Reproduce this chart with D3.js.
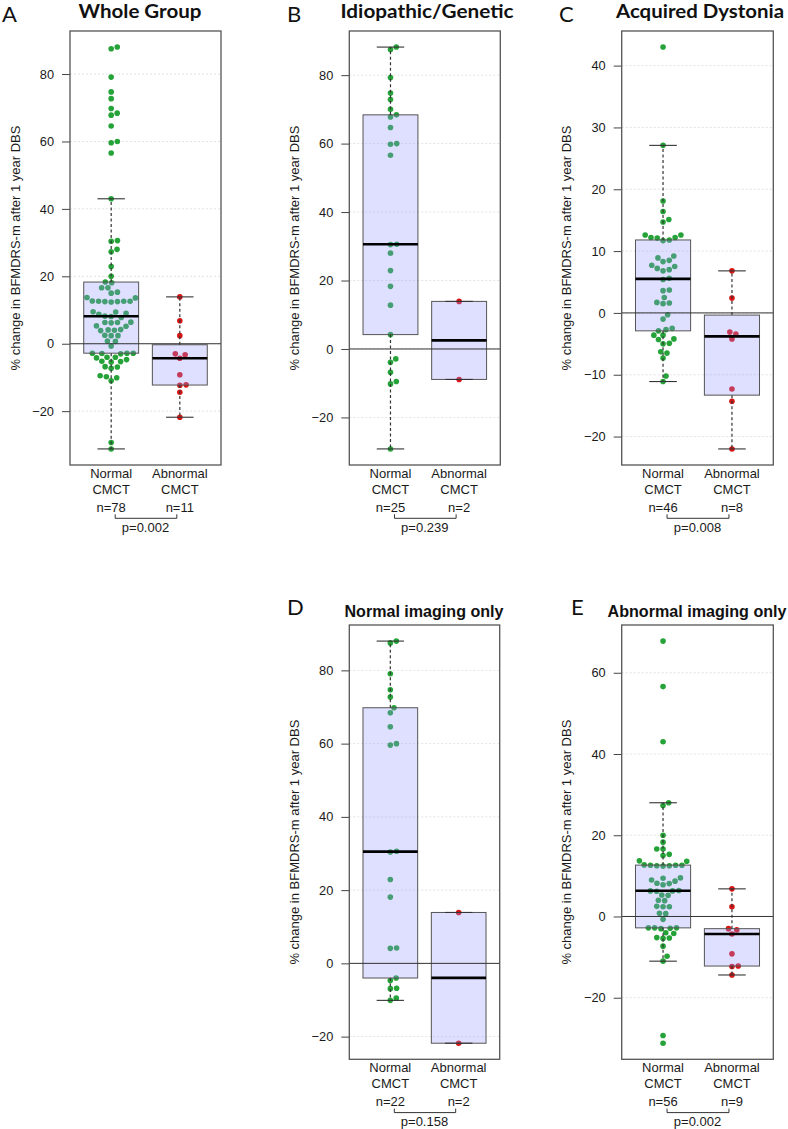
<!DOCTYPE html>
<html><head><meta charset="utf-8">
<script src="https://cdn.jsdelivr.net/npm/d3@7"></script>
<style>body{margin:0;background:#fff} svg{display:block}</style>
</head><body>
<svg id="chart" width="788" height="1129"></svg>
<script>
// ---------- data ----------
const panelLetters = ["A", "B", "C", "D", "E"];
const panelTitles = ["Whole Group", "Idiopathic/Genetic", "Acquired Dystonia", "Normal imaging only", "Abnormal imaging only"];
const groupNames = ["Normal", "Abnormal"];
const groupSub = "CMCT";
const pLabels = ["p=0.002", "p=0.239", "p=0.008", "p=0.158", "p=0.002"];
const yLabel = "% change in BFMDRS-m after 1 year DBS";

const ticks80 = [-20, 0, 20, 40, 60, 80];
const ticks40 = [-20, -10, 0, 10, 20, 30, 40];
const ticks60 = [-20, 0, 20, 40, 60];

const wholeNormal = [88.0, 87.5, 79.1, 74.7, 72.7, 69.8, 68.4, 64.6, 60.0, 59.6, 30.6, 30.4, 22.9, 18.1, 4.2, 4.1, -4.0, -4.7, -6.8, -6.9, -9.5, -10.1,
  67.8, 56.6, 43.0, 28.0, 27.3, 20.0, 18.3, 16.6, 16.6, 15.3, 15.0, 13.7, 13.6, 12.7, 12.6, 12.6, 12.6, 12.5, 12.5, 12.4, 9.5, 9.4, 9.0, 8.7, 8.2, 8.1, 7.8, 6.4, 6.3, 6.3, 6.2, 5.3, 5.2, 4.0, 3.9, 2.5, 2.4, 2.4, 0.8, 0.7, -0.7, -2.8, -2.8, -2.8, -2.9, -3.0, -4.0, -4.2, -5.2, -5.3, -5.4, -7.3, -9.8, -11.0, -29.3, -31.2];
const wholeAbnormal = [13.9, 6.8, 2.4, -3.0, -3.3, -4.3, -9.2, -12.2, -12.3, -14.4, -21.8];

const idioNormal = [88.2, 87.5, 79.3, 74.8, 72.9, 70.0, 68.4, 67.8, 64.7, 60.0, 59.8, 56.6, 30.6, 30.5, 28.0, 22.9, 18.3, 12.8, 4.2, -2.9, -3.9, -6.8, -9.5, -10.2, -29.2];
const idioAbnormal = [13.9, -8.9];

const acqNormal = [43.0, 27.1, 18.1, 16.4, 15.1, 14.7, 12.6, 12.6, 12.2, 12.2, 12.1, 11.8, 11.7, 9.2, 8.9, 8.5, 8.3, 7.7, 7.5, 7.2, 7.0, 6.8, 5.6, 5.4, 3.7, 3.6, 2.5, 1.7, 1.6, 1.5, -0.3, -1.0, -2.5, -2.7, -2.9, -3.6, -3.6, -4.2, -4.3, -4.9, -5.0, -6.3, -6.5, -7.3, -10.2, -11.1];
const acqAbnormal = [6.8, 2.4, -3.1, -3.4, -4.2, -12.3, -14.3, -22.0];

const normImgNormal = [88.0, 87.5, 79.1, 74.7, 72.7, 69.8, 68.4, 64.6, 60.0, 59.6, 30.6, 30.4, 22.9, 18.1, 4.2, 4.1, -4.0, -4.7, -6.8, -6.9, -9.5, -10.1];
const normImgAbnormal = [13.9, -21.8];

const abnImgNormal = [67.8, 56.6, 43.0, 28.0, 27.3, 20.0, 18.3, 16.6, 16.6, 15.3, 15.0, 13.7, 13.6, 12.7, 12.6, 12.6, 12.6, 12.5, 12.5, 12.4, 9.5, 9.4, 9.0, 8.7, 8.2, 8.1, 7.8, 6.4, 6.3, 6.3, 6.2, 5.3, 5.2, 4.0, 3.9, 2.5, 2.4, 2.4, 0.8, 0.7, -0.7, -2.8, -2.8, -2.8, -2.9, -3.0, -4.0, -4.2, -5.2, -5.3, -5.4, -7.3, -9.8, -11.0, -29.3, -31.2];
const abnImgAbnormal = [6.8, 2.4, -3.0, -3.3, -4.3, -9.2, -12.2, -12.3, -14.4];

// ---------- layout ----------
const panels = [
  {normal: wholeNormal, abnormal: wholeAbnormal, ticks: ticks80, x0: 70, x1: 221, y0: 31, y1: 465, tx: 140, tw: 123, ty: 18, lx: 2, ly: 22, calibri: true},
  {normal: idioNormal, abnormal: idioAbnormal, ticks: ticks80, x0: 349.3, x1: 500.3, y0: 31, y1: 465, tx: 427, tw: 173, ty: 18, lx: 287, ly: 22, calibri: true},
  {normal: acqNormal, abnormal: acqAbnormal, ticks: ticks40, x0: 621.7, x1: 773.3, y0: 31, y1: 465, tx: 700, tw: 168, ty: 18, lx: 559, ly: 22, calibri: true},
  {normal: normImgNormal, abnormal: normImgAbnormal, ticks: ticks80, x0: 349.3, x1: 499.7, y0: 625, y1: 1059.3, tx: 424, tw: 159, ty: 617, lx: 287, ly: 615, calibri: false},
  {normal: abnImgNormal, abnormal: abnImgAbnormal, ticks: ticks60, x0: 621.7, x1: 773.3, y0: 625, y1: 1059.3, tx: 697, tw: 179, ty: 617, lx: 571, ly: 615, calibri: false}
];

const GREEN = "#25a338", RED = "#d91515";
const PR = 2.8, SP = 6.3;
const svg = d3.select("#chart");

function fivenum(v) {
  const x = [...v].sort((a, b) => a - b), n = x.length;
  const n4 = Math.floor((n + 3) / 2) / 2;
  const d = [1, n4, (n + 1) / 2, n + 1 - n4, n];
  return d.map(i => 0.5 * (x[Math.floor(i) - 1] + x[Math.ceil(i) - 1]));
}
function boxStats(v) {
  const f = fivenum(v), iqr = f[3] - f[1];
  const lo = f[1] - 1.5 * iqr, hi = f[3] + 1.5 * iqr;
  const inside = v.filter(a => a >= lo && a <= hi);
  return {q1: f[1], med: f[2], q3: f[3], wlo: d3.min(inside), whi: d3.max(inside)};
}
function swarm(py) {
  const order = d3.range(py.length).sort((a, b) => py[b] - py[a]);
  const placed = [], off = new Array(py.length);
  order.forEach(i => {
    const y = py[i];
    const cands = [0];
    placed.forEach(p => {
      const dy = Math.abs(p.y - y);
      if (dy < SP) { const dx = Math.sqrt(SP * SP - dy * dy); cands.push(p.x + dx, p.x - dx); }
    });
    const ok = cands.filter(c => placed.every(p => (p.x - c) ** 2 + (p.y - y) ** 2 >= SP * SP - 1e-6));
    ok.sort((a, b) => (Math.abs(a) - Math.abs(b)) || (b - a));
    const xo = ok[0];
    placed.push({x: xo, y});
    off[i] = xo;
  });
  return off;
}

panels.forEach((p, pi) => {
  const g = svg.append("g");
  const all = p.normal.concat(p.abnormal);
  const mn = d3.min(all), mx = d3.max(all), ext = (mx - mn) * 0.04;
  const y = d3.scaleLinear().domain([mn - ext, mx + ext]).range([p.y1, p.y0]);
  const x = d3.scaleLinear().domain([0.4, 2.6]).range([p.x0, p.x1]);

  g.selectAll(".grid").data(p.ticks).join("line")
    .attr("x1", p.x0).attr("x2", p.x1).attr("y1", d => y(d)).attr("y2", d => y(d))
    .attr("stroke", "#e2e2e2").attr("stroke-width", 1).attr("stroke-dasharray", "2,2");

  const ax = g.append("g").attr("transform", `translate(${p.x0},0)`)
    .call(d3.axisLeft(y).tickValues(p.ticks).tickSize(8).tickPadding(8).tickFormat(d3.format("d")));
  ax.select(".domain").remove();
  ax.selectAll(".tick line").attr("stroke", "#444");
  ax.selectAll(".tick text").attr("fill", "#1a1a1a").style("font-family", "'Liberation Sans', Arial, sans-serif").style("font-size", "12.8px");

  const groups = [{vals: p.normal, pos: 1, color: GREEN}, {vals: p.abnormal, pos: 2, color: RED}];

  groups.forEach(gr => {
    const py = gr.vals.map(v => y(v));
    const off = swarm(py);
    g.append("g").selectAll("circle").data(gr.vals).join("circle")
      .attr("cx", (d, i) => x(gr.pos) + off[i]).attr("cy", d => y(d)).attr("r", PR)
      .attr("fill", gr.color);
  });

  groups.forEach(gr => {
    const s = boxStats(gr.vals);
    const cx = x(gr.pos);
    g.append("rect").attr("x", x(gr.pos - 0.4)).attr("width", x(gr.pos + 0.4) - x(gr.pos - 0.4))
      .attr("y", y(s.q3)).attr("height", y(s.q1) - y(s.q3))
      .attr("fill", "rgba(150,150,255,0.3)").attr("stroke", "#555").attr("stroke-width", 1);
    [[s.q3, s.whi], [s.q1, s.wlo]].forEach(([a, b]) => {
      g.append("line").attr("x1", cx).attr("x2", cx).attr("y1", y(a)).attr("y2", y(b))
        .attr("stroke", "#333").attr("stroke-width", 1.2).attr("stroke-dasharray", "3,2.5");
      g.append("line").attr("x1", x(gr.pos - 0.2)).attr("x2", x(gr.pos + 0.2)).attr("y1", y(b)).attr("y2", y(b))
        .attr("stroke", "#333").attr("stroke-width", 1.1);
    });
    g.append("line").attr("x1", x(gr.pos - 0.4)).attr("x2", x(gr.pos + 0.4)).attr("y1", y(s.med)).attr("y2", y(s.med))
      .attr("stroke", "#000").attr("stroke-width", 2.6);
  });

  g.append("line").attr("x1", p.x0).attr("x2", p.x1).attr("y1", y(0)).attr("y2", y(0))
    .attr("stroke", "#333").attr("stroke-width", 1);

  g.append("rect").attr("x", p.x0).attr("y", p.y0).attr("width", p.x1 - p.x0).attr("height", p.y1 - p.y0)
    .attr("fill", "none").attr("stroke", "#555").attr("stroke-width", 1.3);

  const lab = {"font-family": "'Liberation Sans', Arial, sans-serif", "font-size": "13px", "fill": "#1a1a1a", "text-anchor": "middle"};
  const addText = (sel, attrs, txt) => { const t = sel.append("text").text(txt); Object.entries(attrs).forEach(([k, v]) => t.attr(k, v)); return t; };
  groups.forEach((gr, gi) => {
    addText(g, {...lab, x: x(gr.pos), y: p.y1 + 12.5}, groupNames[gi]);
    addText(g, {...lab, x: x(gr.pos), y: p.y1 + 29}, groupSub);
    addText(g, {...lab, x: x(gr.pos), y: p.y1 + 47}, "n=" + gr.vals.length);
  });
  const bx1 = x(1) + 4, bx2 = x(2) - 3, by = p.y1 + 53.3;
  g.append("path").attr("d", `M${bx1},${by - 4}V${by}H${bx2}V${by - 4}`).attr("fill", "none").attr("stroke", "#333").attr("stroke-width", 1);
  addText(g, {...lab, x: (x(1) + x(2)) / 2, y: p.y1 + 66.5}, pLabels[pi]);

  addText(g, {...lab, x: 0, y: 0, "dominant-baseline": "central",
    transform: `translate(${p.x0 - 55},${(p.y0 + p.y1) / 2}) rotate(-90)`}, yLabel);

  if (p.calibri) {
    addText(g, {x: p.tx, y: p.ty, "text-anchor": "middle", "font-family": "Lato, 'Open Sans', sans-serif", "font-weight": 700, "font-size": "18px", fill: "#111",
      textLength: p.tw, lengthAdjust: "spacingAndGlyphs"}, panelTitles[pi]);
  } else {
    addText(g, {x: p.tx, y: p.ty, "text-anchor": "middle", "font-family": "'Liberation Sans', Arial, sans-serif", "font-weight": 700, "font-size": "16px", fill: "#111",
      textLength: p.tw, lengthAdjust: "spacingAndGlyphs"}, panelTitles[pi]);
  }
  addText(g, {x: p.lx, y: p.ly, "font-family": "Lato, 'Open Sans', sans-serif", "font-weight": 400, "font-size": "22px", fill: "#111"}, panelLetters[pi]);
});
</script>
</body></html>
